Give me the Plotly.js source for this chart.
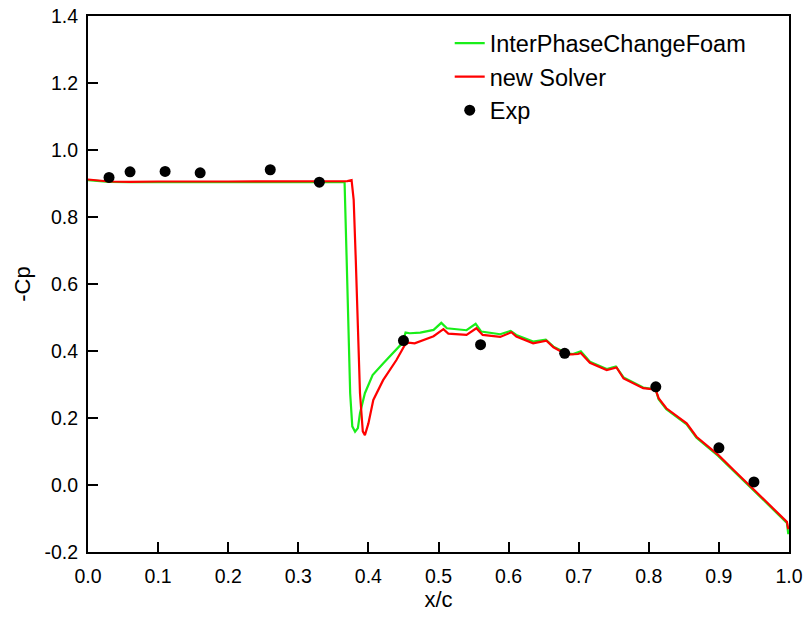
<!DOCTYPE html>
<html>
<head>
<meta charset="utf-8">
<script src="https://cdn.plot.ly/plotly-3.0.1.min.js"></script>
<style>
html,body{margin:0;padding:0;background:#fff;}
#chart{width:808px;height:619px;}
</style>
</head>
<body>
<div id="chart"></div>
<script>
// InterPhaseChangeFoam
var ipcfX = [0, 0.03, 0.06, 0.1, 0.2, 0.3, 0.36, 0.366, 0.369, 0.374, 0.377, 0.381, 0.385, 0.388, 0.395, 0.406, 0.421, 0.435, 0.449, 0.453, 0.459, 0.474, 0.493, 0.504, 0.512, 0.540, 0.553, 0.561, 0.588, 0.603, 0.611, 0.635, 0.653, 0.664, 0.683, 0.692, 0.703, 0.716, 0.740, 0.753, 0.764, 0.792, 0.802, 0.809, 0.814, 0.825, 0.849, 0.854, 0.868, 0.899, 0.921, 0.968, 0.997, 0.999];
var ipcfY = [0.910, 0.905, 0.904, 0.904, 0.904, 0.904, 0.905, 0.904, 0.672, 0.274, 0.175, 0.159, 0.170, 0.214, 0.274, 0.328, 0.363, 0.395, 0.425, 0.455, 0.453, 0.455, 0.463, 0.484, 0.468, 0.462, 0.481, 0.458, 0.450, 0.460, 0.448, 0.428, 0.434, 0.413, 0.393, 0.391, 0.399, 0.368, 0.346, 0.354, 0.321, 0.291, 0.288, 0.291, 0.256, 0.226, 0.191, 0.181, 0.141, 0.087, 0.042, -0.053, -0.113, -0.147];

// new Solver
var newX = [0, 0.03, 0.06, 0.1, 0.2, 0.3, 0.37, 0.376, 0.379, 0.382, 0.388, 0.392, 0.395, 0.400, 0.407, 0.421, 0.440, 0.452, 0.457, 0.466, 0.493, 0.507, 0.514, 0.540, 0.554, 0.563, 0.588, 0.604, 0.611, 0.635, 0.654, 0.664, 0.683, 0.699, 0.703, 0.716, 0.740, 0.754, 0.764, 0.792, 0.804, 0.809, 0.814, 0.825, 0.849, 0.854, 0.868, 0.899, 0.921, 0.968, 0.997, 0.999];
var newY = [0.912, 0.906, 0.905, 0.906, 0.906, 0.906, 0.907, 0.910, 0.851, 0.672, 0.274, 0.160, 0.149, 0.184, 0.254, 0.313, 0.373, 0.418, 0.425, 0.423, 0.444, 0.465, 0.452, 0.448, 0.468, 0.448, 0.442, 0.456, 0.443, 0.423, 0.431, 0.411, 0.389, 0.391, 0.394, 0.365, 0.343, 0.351, 0.318, 0.289, 0.286, 0.289, 0.259, 0.229, 0.194, 0.184, 0.144, 0.090, 0.045, -0.050, -0.110, -0.132];

// Experiment
var expX = [0.03, 0.06, 0.11, 0.16, 0.26, 0.33, 0.45, 0.56, 0.68, 0.81, 0.90, 0.95];
var expY = [0.918, 0.935, 0.936, 0.932, 0.941, 0.904, 0.431, 0.419, 0.393, 0.293, 0.111, 0.009];

var xTicks = [0, 0.1, 0.2, 0.3, 0.4, 0.5, 0.6, 0.7, 0.8, 0.9, 1.0];
var xTickText = ['0.0','0.1','0.2','0.3','0.4','0.5','0.6','0.7','0.8','0.9','1.0'];
var yTicks = [-0.2, 0, 0.2, 0.4, 0.6, 0.8, 1.0, 1.2, 1.4];
var yTickText = ['-0.2','0.0','0.2','0.4','0.6','0.8','1.0','1.2','1.4'];

var FONT = 'Liberation Sans, Arial, sans-serif';

var traces = [
  {x: ipcfX, y: ipcfY, mode: 'lines', name: 'InterPhaseChangeFoam',
   line: {color: '#19ee19', width: 2.2}},
  {x: newX, y: newY, mode: 'lines', name: 'new Solver',
   line: {color: '#ff0000', width: 2.2}},
  {x: expX, y: expY, mode: 'markers', name: 'Exp',
   marker: {color: '#000000', size: 11, symbol: 'circle'}}
];

var axisCommon = {
  showgrid: false, zeroline: false,
  showline: true, linecolor: '#000', linewidth: 2, mirror: true,
  ticks: 'inside', ticklen: 10, tickwidth: 2, tickcolor: '#000',
  tickfont: {family: FONT, size: 19.5, color: '#000'},
  tickmode: 'array'
};

var layout = {
  width: 808, height: 619,
  margin: {l: 88, r: 19, t: 16, b: 67},
  paper_bgcolor: '#fff', plot_bgcolor: '#fff',
  showlegend: true,
  legend: {x: 0.516, y: 0.99, xanchor: 'left', yanchor: 'top',
           bgcolor: 'rgba(0,0,0,0)', borderwidth: 0,
           font: {family: FONT, size: 23.5, color: '#000'},
           tracegroupgap: 0},
  xaxis: Object.assign({}, axisCommon, {
    range: [0, 1.0], tickvals: xTicks, ticktext: xTickText,
    ticklabelstandoff: 6,
    title: {text: 'x/c', font: {family: FONT, size: 22, color: '#000'}, standoff: 4}
  }),
  yaxis: Object.assign({}, axisCommon, {
    range: [-0.2, 1.4], tickvals: yTicks, ticktext: yTickText,
    ticklabelstandoff: 4,
    title: {text: '-Cp', font: {family: FONT, size: 22, color: '#000'}, standoff: 8}
  })
};

Plotly.newPlot('chart', traces, layout, {displayModeBar: false, staticPlot: true});
</script>
</body>
</html>
